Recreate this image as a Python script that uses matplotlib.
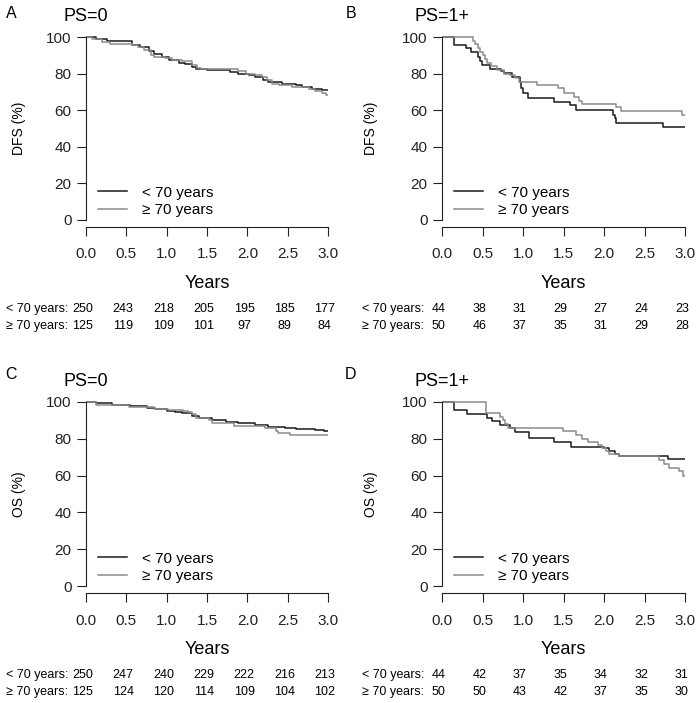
import matplotlib.pyplot as plt
from matplotlib import transforms

plt.rcParams['font.family'] = ['Liberation Sans', 'DejaVu Sans']

# Tiempos de seguimiento (años) del eje x y de la tabla de pacientes en riesgo
years = [0.0, 0.5, 1.0, 1.5, 2.0, 2.5, 3.0]
year_labels = ['0.0', '0.5', '1.0', '1.5', '2.0', '2.5', '3.0']
y_ticks = [0, 20, 40, 60, 80, 100]
group_labels = ['< 70 years', '\u2265 70 years']
risk_labels = ['< 70 years:', '\u2265 70 years:']

# Panel A: DFS, PS=0 (escalones, %)
dfs_ps0_young_t = [0, 0.12, 0.26, 0.57, 0.67, 0.78, 0.84, 0.94, 1.03, 1.15, 1.23, 1.31, 1.36,
                   1.50, 1.79, 1.89, 2.02, 2.10, 2.20, 2.26, 2.43, 2.60, 2.68, 2.80, 2.92, 3.0]
dfs_ps0_young_s = [100, 99.1, 97.6, 95.8, 94.5, 92.2, 90.9, 89.1, 87.2, 86.0, 85.1, 83.6, 82.7,
                   81.8, 80.9, 80.0, 79.1, 78.1, 76.3, 75.4, 74.5, 73.6, 72.7, 71.8, 70.9, 70.9]
dfs_ps0_old_t = [0, 0.07, 0.20, 0.30, 0.57, 0.65, 0.72, 0.80, 0.84, 0.98, 1.07, 1.19, 1.31,
                 1.38, 1.42, 1.89, 1.98, 2.10, 2.18, 2.24, 2.31, 2.39, 2.55, 2.76, 2.84, 2.93,
                 2.97, 3.0]
dfs_ps0_old_s = [100, 99.1, 97.3, 96.0, 95.4, 94.5, 92.7, 90.3, 89.1, 88.5, 87.2, 86.7, 84.5,
                 83.1, 82.3, 81.2, 80.0, 79.1, 78.1, 76.3, 74.5, 73.6, 72.7, 71.4, 70.3, 69.6,
                 68.3, 68.3]

# Panel B: DFS, PS=1+
dfs_ps1_young_t = [0, 0.15, 0.30, 0.36, 0.44, 0.47, 0.49, 0.59, 0.73, 0.77, 0.86, 0.96, 0.98,
                   1.00, 1.06, 1.38, 1.58, 1.65, 2.11, 2.13, 2.15, 2.73, 3.0]
dfs_ps1_young_s = [100, 95.8, 93.8, 92.0, 89.3, 87.0, 84.7, 82.3, 81.4, 80.5, 78.3, 75.6, 72.0,
                   69.2, 66.5, 64.7, 62.8, 60.1, 57.5, 55.6, 53.2, 51.0, 51.0]
dfs_ps1_old_t = [0, 0.38, 0.41, 0.44, 0.47, 0.50, 0.53, 0.56, 0.60, 0.68, 0.76, 0.84, 0.90,
                 0.95, 1.17, 1.43, 1.51, 1.63, 1.69, 1.73, 2.15, 2.21, 2.96, 3.0]
dfs_ps1_old_s = [100, 98, 96, 94, 92, 90, 88, 86, 84, 82, 80, 79, 77.5,
                 75.6, 73.8, 71.9, 69.6, 67.4, 65.2, 63.4, 61.6, 59.6, 57.4, 57.4]

# Panel C: OS, PS=0
os_ps0_young_t = [0, 0.12, 0.32, 0.55, 0.76, 0.86, 1.00, 1.10, 1.19, 1.31, 1.40, 1.56, 1.73,
                  1.89, 2.10, 2.26, 2.47, 2.60, 2.84, 2.95, 3.0]
os_ps0_young_s = [100, 99.3, 98.2, 97.8, 96.9, 96.0, 95.1, 94.5, 93.8, 92.6, 91.3, 90.2, 89.1,
                  88.4, 87.5, 86.6, 85.7, 85.1, 84.8, 84.4, 84.4]
os_ps0_old_t = [0, 0.12, 0.53, 0.84, 1.02, 1.20, 1.27, 1.31, 1.36, 1.52, 1.56, 1.83, 2.22,
                2.35, 2.38, 2.53, 3.0]
os_ps0_old_s = [100, 98.6, 97.5, 96.0, 95.7, 95.2, 94.6, 93.3, 91.5, 90.2, 88.8, 87.0, 86.0,
                84.2, 83.0, 81.9, 81.9]

# Panel D: OS, PS=1+
os_ps1_young_t = [0, 0.15, 0.31, 0.55, 0.62, 0.71, 0.84, 0.90, 1.07, 1.38, 1.59, 2.00, 2.06,
                  2.13, 2.19, 2.79, 3.0]
os_ps1_young_s = [100, 95.5, 93.2, 91.2, 89.5, 87.6, 85.8, 83.6, 80.5, 78.2, 75.8, 74.8, 73.4,
                  71.6, 70.8, 68.8, 68.8]
os_ps1_old_t = [0, 0.54, 0.72, 0.75, 0.78, 0.81, 1.49, 1.65, 1.73, 1.80, 1.92, 1.97, 2.02,
                2.06, 2.19, 2.68, 2.74, 2.80, 2.93, 2.98, 3.0]
os_ps1_old_s = [100, 94, 92, 90, 88, 86, 84, 82, 80, 78, 76.4, 75.0, 73.5,
                72.0, 70.4, 68.2, 66.2, 64.2, 62.3, 60.0, 60.0]

# Pacientes en riesgo
risk_dfs_ps0 = [[250, 243, 218, 205, 195, 185, 177], [125, 119, 109, 101, 97, 89, 84]]
risk_dfs_ps1 = [[44, 38, 31, 29, 27, 24, 23], [50, 46, 37, 35, 31, 29, 28]]
risk_os_ps0 = [[250, 247, 240, 229, 222, 216, 213], [125, 124, 120, 114, 109, 104, 102]]
risk_os_ps1 = [[44, 42, 37, 35, 34, 32, 31], [50, 50, 43, 42, 37, 35, 30]]

BLACK = '#1a1a1a'
GRAY = '#8c8c8c'
W, H = 700, 703

fig = plt.figure(figsize=(7, 7.03), dpi=100)


def add_panel(left, right, top, bottom):
    return fig.add_axes([left / W, 1 - bottom / H, (right - left) / W, (bottom - top) / H])


def draw_panel(ax, letter, letter_xy, title, ylab, ylab_x, curves, risk):
    h_px = ax.get_position().height * H
    for (t, s), color, lab in zip(curves, [BLACK, GRAY], group_labels):
        ax.step(t, s, where='post', color=color, lw=1.1, label=lab)
    ax.set_xlim(0, 3)
    ax.set_ylim(-4, 104)
    for side in ['top', 'right']:
        ax.spines[side].set_visible(False)
    ax.spines['left'].set_bounds(0, 100)
    ax.spines['bottom'].set_bounds(0, 3)
    for side in ['left', 'bottom']:
        ax.spines[side].set_linewidth(0.8)
        ax.spines[side].set_color('#222222')
    ax.set_xticks(years)
    ax.set_xticklabels(year_labels)
    ax.set_yticks(y_ticks)
    ax.tick_params(axis='both', direction='out', length=6.5, width=0.8,
                   labelsize=11, colors='#222222')
    ax.tick_params(axis='x', pad=8)
    ax.tick_params(axis='y', pad=4)
    ax.set_xlabel('Years', fontsize=13)
    ax.xaxis.set_label_coords(0.5, -55.7 / h_px)
    ax.xaxis.label.set_va('center')
    ax.set_ylabel(ylab, fontsize=10)
    ax.yaxis.set_label_coords(ylab_x, 0.5)
    ax.text(0, 111, title, ha='center', va='center', fontsize=13, clip_on=False)

    ax.legend(loc='lower left', bbox_to_anchor=(0.05, 0.05), frameon=False, fontsize=11,
              handlelength=1.9, handletextpad=1.0, labelspacing=0.25,
              borderpad=0, borderaxespad=0)

    trans = transforms.blended_transform_factory(ax.transData, ax.transAxes)
    for row, (counts, lab) in enumerate(zip(risk, risk_labels)):
        y = -(82 + 17 * row) / h_px
        ax.text(-0.99, y, lab, transform=trans, ha='left', va='center', fontsize=9,
                clip_on=False)
        for x, n in zip(years, counts):
            ax.text(x - 0.04, y, str(n), transform=trans, ha='center', va='center',
                    fontsize=9, clip_on=False)

    fig.text(letter_xy[0] / W, 1 - letter_xy[1] / H, letter, ha='center', va='center',
             fontsize=11.5)


ax_a = add_panel(86, 328, 29.7, 227.3)
ax_b = add_panel(442, 685, 29.7, 227.3)
ax_c = add_panel(86, 328, 394.6, 593.4)
ax_d = add_panel(442, 685, 394.6, 593.4)

draw_panel(ax_a, 'A', (11, 13), 'PS=0', 'DFS (%)', -0.25,
           [(dfs_ps0_young_t, dfs_ps0_young_s), (dfs_ps0_old_t, dfs_ps0_old_s)], risk_dfs_ps0)
draw_panel(ax_b, 'B', (351, 13), 'PS=1+', 'DFS (%)', -0.263,
           [(dfs_ps1_young_t, dfs_ps1_young_s), (dfs_ps1_old_t, dfs_ps1_old_s)], risk_dfs_ps1)
draw_panel(ax_c, 'C', (11, 375), 'PS=0', 'OS (%)', -0.25,
           [(os_ps0_young_t, os_ps0_young_s), (os_ps0_old_t, os_ps0_old_s)], risk_os_ps0)
draw_panel(ax_d, 'D', (351, 375), 'PS=1+', 'OS (%)', -0.263,
           [(os_ps1_young_t, os_ps1_young_s), (os_ps1_old_t, os_ps1_old_s)], risk_os_ps1)

fig.savefig('out.png', dpi=100)
